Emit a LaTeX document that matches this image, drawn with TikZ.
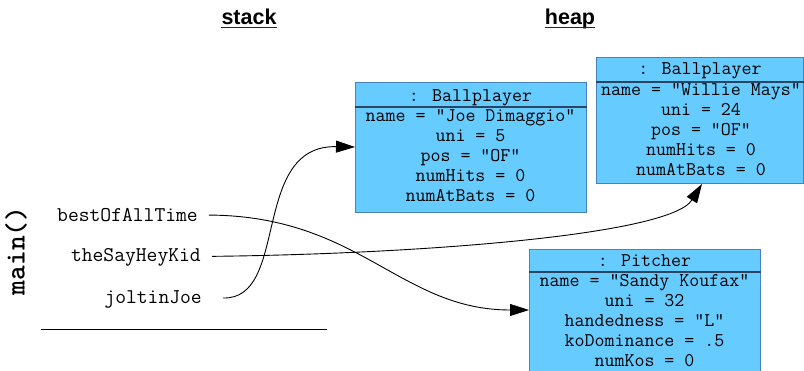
\documentclass[tikz,border=0pt]{standalone}
\usepackage{fontspec}
\setmainfont{Liberation Sans}
\usetikzlibrary{arrows.meta}
\definecolor{boxfill}{RGB}{102,204,255}
\definecolor{boxdraw}{RGB}{70,130,190}
\definecolor{boxline}{RGB}{40,70,100}
\tikzset{
  objbox/.style={draw=boxdraw, fill=boxfill, line width=1pt, inner sep=0pt, anchor=north west},
  divider/.style={draw=boxline, line width=1.2pt},
  fieldtxt/.style={font=\ttfamily\fontsize{19.4}{20}\selectfont, inner sep=0pt, anchor=base},
  varlbl/.style={font=\ttfamily\fontsize{21}{22}\selectfont, anchor=base east, inner sep=0pt},
  ref/.style={-{Triangle[length=19pt,width=12pt]}, line width=0.9pt},
  titletxt/.style={font=\bfseries\fontsize{21.5}{24}\selectfont, anchor=base, inner sep=0pt},
  uline/.style={line width=1.8pt, black!85},
}
\begin{document}
\begin{tikzpicture}[x=1pt,y=-1pt]
\useasboundingbox (0,0) rectangle (804,371);
\clip (0,0) rectangle (804,371);
% titles
\node[titletxt] (stack) at (249,25) {stack};
\node[titletxt] (heap) at (570,25) {heap};
\draw[uline] ([yshift=-2.5pt]stack.base west) -- ([yshift=-2.5pt]stack.base east);
\draw[uline] ([yshift=-2.5pt]heap.base west) -- ([yshift=-2.5pt]heap.base east);
% main()
\node[font=\ttfamily\bfseries\fontsize{28}{30}\selectfont, rotate=90, inner sep=0pt] (main) at (16,251) {main()};
% stack variables
\node[varlbl] (best) at (198,222) {bestOfAllTime};
\node[varlbl] (kid) at (201,261.5) {theSayHeyKid};
\node[varlbl] (joe) at (202,304) {joltinJoe};
\coordinate (sl) at (41,329);
\coordinate (sr) at (327,329);
\draw[line width=0.9pt] (sl) -- (sr);
% Joe box
\node[objbox, minimum width=231pt, minimum height=130pt] (joebox) at (355,82) {};
\draw[divider] ([yshift=-25pt]joebox.north west) -- ([yshift=-25pt]joebox.north east);
\node[fieldtxt] (joehdr) at (470.5,102) {: Ballplayer};
\foreach \t [count=\i from 0] in {name = "Joe Dimaggio", uni = 5, pos = "OF", numHits = 0, numAtBats = 0}
  \node[fieldtxt] (joef\i) at (470.5,122+20*\i) {\t};
% Willie box
\node[objbox, minimum width=207pt, minimum height=126pt] (willie) at (596,57) {};
\draw[divider] ([yshift=-25pt]willie.north west) -- ([yshift=-25pt]willie.north east);
\node[fieldtxt] (wilhdr) at (700,75) {: Ballplayer};
\foreach \t [count=\i from 0] in {name = "Willie Mays", uni = 24, pos = "OF", numHits = 0, numAtBats = 0}
  \node[fieldtxt] (wilf\i) at (701,96+19.8*\i) {\t};
% Pitcher box
\node[objbox, minimum width=231pt, minimum height=135pt] (pitcher) at (529,249) {};
\draw[divider] ([yshift=-23pt]pitcher.north west) -- ([yshift=-23pt]pitcher.north east);
\node[fieldtxt] (pithdr) at (644.5,267) {: Pitcher};
\foreach \t [count=\i from 0] in {name = "Sandy Koufax", uni = 32, handedness = "L", koDominance = .5, numKos = 0}
  \node[fieldtxt] (pitf\i) at (644.5,287+19.8*\i) {\t};
% references
\draw[ref] ([xshift=11pt,yshift=0.5pt]best.east) .. controls (360,216) and (400,310) .. ([yshift=-61pt]pitcher.north west);
\draw[ref] ([xshift=11pt,yshift=1pt]kid.east) .. controls (420,254) and (670,235) .. ([xshift=106pt]willie.south west);
\draw[ref] ([xshift=21pt,yshift=2pt]joe.east) .. controls (290,300) and (250,145) .. ([yshift=-65pt]joebox.north west);
\end{tikzpicture}
\end{document}
